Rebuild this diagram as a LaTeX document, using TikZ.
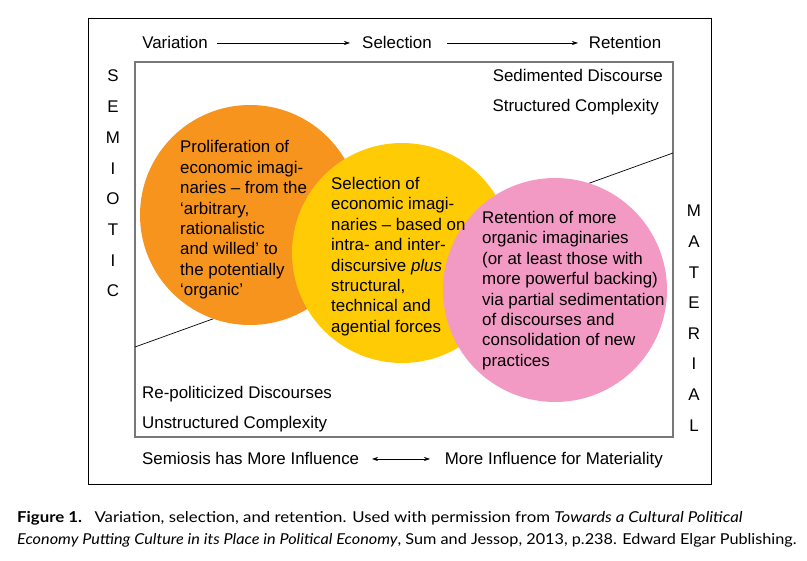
\documentclass[tikz,border=0pt]{standalone}
\usepackage{fontspec}
\setmainfont{Liberation Sans}
\newfontfamily\capfont[FakeStretch=1.12]{Lato}
\newfontfamily\capfontb[FakeStretch=1.082]{Lato}
\usetikzlibrary{arrows.meta}
\definecolor{corange}{RGB}{247,148,30}
\definecolor{cyellow}{RGB}{255,203,5}
\definecolor{cpink}{RGB}{243,154,196}
\definecolor{frameg}{RGB}{120,120,120}
\tikzset{
  lbl/.style={inner sep=0pt, font=\fontsize{16.9}{20}\selectfont, anchor=base},
  lblw/.style={lbl, anchor=base west},
  lble/.style={lbl, anchor=base east},
  letter/.style={inner sep=0pt, font=\fontsize{16.9}{20}\selectfont, anchor=base},
  blob/.style={circle, inner sep=0pt, draw=none},
  blobtext/.style={inner sep=0pt, anchor=north west, align=left, font=\fontsize{16.9}{20.4}\selectfont},
  flow/.style={draw=black, line width=0.6pt, -{Stealth[length=6pt,width=4pt]}},
  both/.style={draw=black, line width=0.6pt, {Stealth[length=6pt,width=4pt]}-{Stealth[length=6pt,width=4pt]}},
  caption/.style={inner sep=0pt, anchor=base west, font=\capfont\fontsize{15}{20}\selectfont},
  captionb/.style={inner sep=0pt, anchor=base west, font=\capfontb\fontsize{15}{20}\selectfont}
}
\begin{document}
\begin{tikzpicture}[x=1pt,y=-1pt]
\useasboundingbox (0,0) rectangle (807,561);
\fill[white] (0,0) rectangle (807,561);
% frames
\draw[black, line width=0.7pt] (88,18) rectangle (711,484);
\draw[frameg, line width=1.3pt] (135,62) rectangle (673,437);
% diagonal
\coordinate (dl) at (135,347);
\coordinate (dr) at (673,153);
\draw[black, line width=0.7pt] (dl) -- (dr);
% circles
\node[blob, fill=corange, minimum size=220pt] (orange) at (250,215) {};
\node[blob, fill=cyellow, minimum size=220pt] (yellow) at (402,253) {};
\node[blob, fill=cpink, minimum size=224pt] (pink) at (555,290) {};
% circle texts
\node[blobtext] (t1) at (180,140.5) {Proliferation of\\economic imagi-\\naries -- from the\\‘arbitrary,\\rationalistic\\and willed’ to\\the potentially\\‘organic’};
\node[blobtext] (t2) at (331,177) {Selection of\\economic imagi-\\naries -- based on\\intra- and inter-\\discursive \textit{plus}\\structural,\\technical and\\agential forces};
\node[blobtext] (t3) at (482,211) {Retention of more\\organic imaginaries\\(or at least those with\\more powerful backing)\\via partial sedimentation\\of discourses and\\consolidation of new\\practices};
% top row
\node[lbl] (var) at (175,49) {Variation};
\node[lbl] (sel) at (397,49) {Selection};
\node[lbl] (ret) at (625,49) {Retention};
\draw[flow] (217,43) -- (350,43);
\draw[flow] (447,43) -- (578,43);
% corner labels
\node[lble] (sd) at (663,82) {Sedimented Discourse};
\node[lble] (sc) at (659,112) {Structured Complexity};
\node[lblw] (rd) at (142,398.5) {Re-politicized Discourses};
\node[lblw] (uc) at (142,428.5) {Unstructured Complexity};
% bottom row
\node[lblw] (smi) at (142,465) {Semiosis has More Influence};
\node[lble] (mim) at (663,465) {More Influence for Materiality};
\draw[both] (372,459) -- (430,459);
% SEMIOTIC
\foreach \l [count=\i from 0] in {S,E,M,I,O,T,I,C}
  \node[letter] (s\i) at (113,82+30.7*\i) {\l};
% MATERIAL
\foreach \l [count=\i from 0] in {M,A,T,E,R,I,A,L}
  \node[letter] (m\i) at (694,217+30.6*\i) {\l};
% caption
\node[caption] (cap1) at (17,523) {\textbf{Figure 1.}\hspace{0.45em} Variation, selection, and retention. Used with permission from \textit{Towards a Cultural Political}};
\node[captionb] (cap2) at (17,544) {\textit{Economy Putting Culture in its Place in Political Economy}, Sum and Jessop, 2013, p.238. Edward Elgar Publishing.};
\end{tikzpicture}
\end{document}
